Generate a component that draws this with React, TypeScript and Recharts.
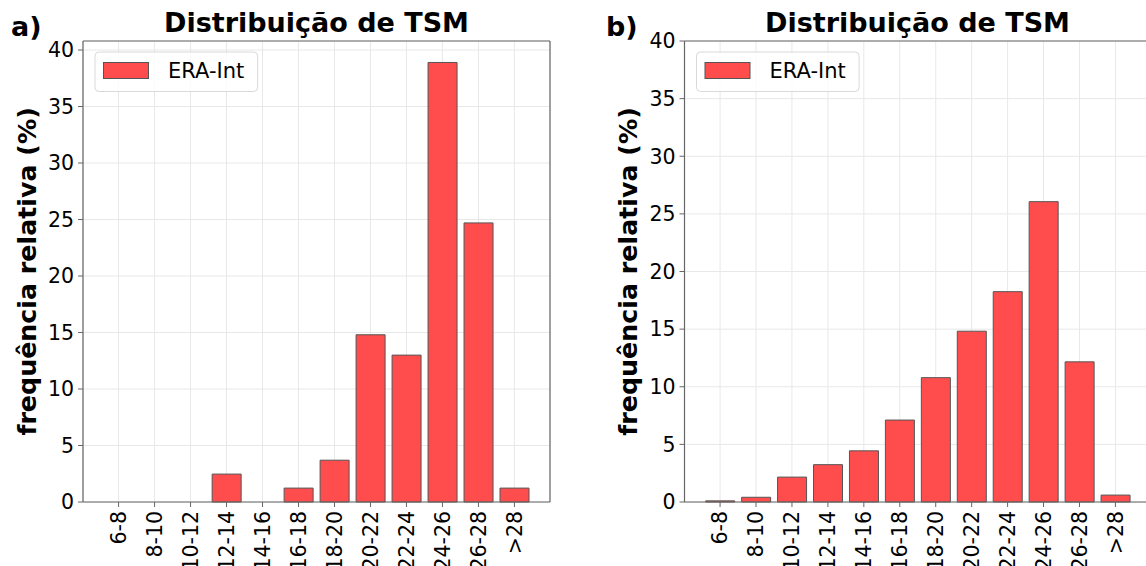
import React from "react";
import { BarChart, Bar, XAxis, YAxis, CartesianGrid } from "recharts";

const categories = ["6-8", "8-10", "10-12", "12-14", "14-16", "16-18", "18-20", "20-22", "22-24", "24-26", "26-28", ">28"];
const freqA = [0, 0, 0, 2.47, 0, 1.23, 3.7, 14.8, 13.0, 38.9, 24.7, 1.23];
const freqB = [0.1, 0.41, 2.16, 3.24, 4.44, 7.11, 10.79, 14.82, 18.25, 26.06, 12.16, 0.6];
const yTicks = [0, 5, 10, 15, 20, 25, 30, 35, 40];
const seriesName = "ERA-Int";
const titleText = "Distribuição de TSM";
const yLabelText = "frequência relativa (%)";

const FONT = "'DejaVu Sans', sans-serif";
const BAR_FILL = "#ff4d4d";
const BAR_EDGE = "#555555";
const SPINE = "#666666";
const GRID = "#e8e8e8";

const RotatedTick = (props: any) => {
  const { x, y, payload } = props;
  return (
    <text
      x={x}
      y={y}
      dy="0.36em"
      transform={`rotate(-90, ${x}, ${y})`}
      textAnchor="end"
      fontSize={20.5}
      fontFamily={FONT}
      fill="#000"
    >
      {payload.value}
    </text>
  );
};

interface PanelProps {
  values: number[];
  yMax: number;
  left: number;
  width: number;
  marginLeft: number;
  marginRight: number;
}

const Panel: React.FC<PanelProps> = ({ values, yMax, left, width, marginLeft, marginRight }) => {
  const data = categories.map((cat, i) => ({ cat, v: values[i] }));
  return (
    <div style={{ position: "absolute", left, top: 0 }}>
      <BarChart
        width={width}
        height={566}
        data={data}
        barCategoryGap="10%"
        margin={{ top: 40, right: marginRight, bottom: 4, left: marginLeft }}
      >
        <CartesianGrid stroke={GRID} strokeWidth={1} />
        <XAxis
          dataKey="cat"
          type="category"
          interval={0}
          height={60}
          padding={{ left: 17.6, right: 17.6 }}
          tickSize={5}
          tickMargin={4}
          tick={<RotatedTick />}
          axisLine={{ stroke: SPINE, strokeWidth: 1.2 }}
          tickLine={{ stroke: SPINE }}
        />
        {/* top and right spines drawn as bare axes */}
        <XAxis
          xAxisId="top"
          dataKey="cat"
          orientation="top"
          height={1}
          tick={false}
          tickLine={false}
          axisLine={{ stroke: SPINE, strokeWidth: 1.2 }}
        />
        <YAxis
          type="number"
          domain={[0, yMax]}
          ticks={yTicks}
          width={60}
          tickSize={5}
          tickMargin={4}
          tick={{ fontSize: 20.5, fontFamily: FONT, fill: "#000" }}
          axisLine={{ stroke: SPINE, strokeWidth: 1.2 }}
          tickLine={{ stroke: SPINE }}
        />
        <YAxis
          yAxisId="right"
          orientation="right"
          type="number"
          domain={[0, yMax]}
          width={1}
          tick={false}
          tickLine={false}
          axisLine={{ stroke: SPINE, strokeWidth: 1.2 }}
        />
        <Bar dataKey="v" name={seriesName} fill={BAR_FILL} stroke={BAR_EDGE} strokeWidth={1} isAnimationActive={false} />
      </BarChart>
    </div>
  );
};

// titles, panel letters, y labels and legends sit on one overlay
const Annotations = ({ letter, letterX, plotLeft, plotCenter }: { letter: string; letterX: number; plotLeft: number; plotCenter: number }) => (
  <g fontFamily={FONT}>
    <text x={letterX} y={36} fontSize={27} fontWeight="bold" fill="#000">
      {letter}
    </text>
    <text x={plotCenter} y={32} fontSize={27} fontWeight="bold" textAnchor="middle" fill="#000">
      {titleText}
    </text>
    <text
      x={plotLeft - 47}
      y={271.4}
      transform={`rotate(-90, ${plotLeft - 47}, 271.4)`}
      fontSize={25.3}
      fontWeight="bold"
      textAnchor="middle"
      fill="#000"
    >
      {yLabelText}
    </text>
    <rect x={plotLeft + 12} y={52} width={162.6} height={39.5} rx={4} fill="#fff" fillOpacity={0.8} stroke="#d9d9d9" strokeWidth={1} />
    <rect x={plotLeft + 20.5} y={62.5} width={45} height={16} fill={BAR_FILL} stroke={BAR_EDGE} strokeWidth={1} />
    <text x={plotLeft + 85} y={78} fontSize={21} fill="#000">
      {seriesName}
    </text>
  </g>
);

export default function App() {
  return (
    <div style={{ position: "absolute", left: 0, top: 0, width: 1146, height: 566, overflow: "hidden", background: "#fff" }}>
      <Panel values={freqA} yMax={40.8} left={0} width={573} marginLeft={23} marginRight={22} />
      <Panel values={freqB} yMax={40} left={573} width={600} marginLeft={51.5} marginRight={21} />
      <svg width={1146} height={566} style={{ position: "absolute", left: 0, top: 0, pointerEvents: "none" }}>
        <Annotations letter="a)" letterX={11} plotLeft={83} plotCenter={316.5} />
        <Annotations letter="b)" letterX={606} plotLeft={684.5} plotCenter={917.5} />
      </svg>
    </div>
  );
}
